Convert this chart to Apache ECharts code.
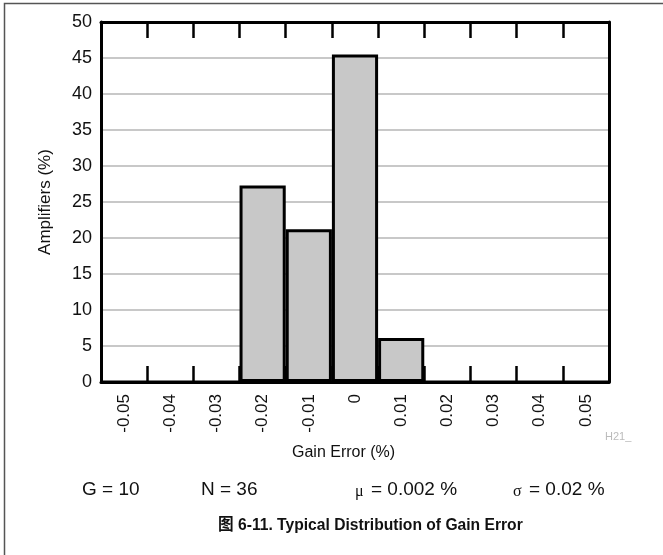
<!DOCTYPE html>
<html>
<head>
<meta charset="utf-8">
<script src="https://cdn.jsdelivr.net/npm/echarts@6/dist/echarts.min.js"></script>
<style>
  html, body { margin: 0; padding: 0; background: #fff; }
  #chart { width: 663px; height: 555px; }
</style>
</head>
<body>
<div id="chart"></div>
<script>
// gain error bins (%), share of amplifiers (%)
const bins = ["-0.05", "-0.04", "-0.03", "-0.02", "-0.01", "0", "0.01", "0.02", "0.03", "0.04", "0.05"];
const amplifiers = [0, 0, 0, 27.3, 21.2, 45.5, 6.1, 0, 0, 0, 0];
const yTicks = [0, 50, 5]; // min, max, step

const chart = echarts.init(document.getElementById("chart"));
const font = "Liberation Sans, Arial, sans-serif";
const serif = "Liberation Serif, Times New Roman, serif";

const tickStyle = { show: true, inside: true, length: 16, interval: 0, lineStyle: { color: "#000", width: 2.5 } };
const frameLine = { onZero: false, lineStyle: { color: "#000", width: 3 } };

chart.setOption({
    backgroundColor: "#fff",
    animation: false,
    textStyle: { fontFamily: font },

    grid: { left: 101, right: 54, top: 22, bottom: 173 },

    xAxis: [
        {
            type: "category",
            data: bins,
            position: "bottom",
            axisLine: frameLine,
            axisTick: tickStyle,
            axisLabel: { rotate: 90, fontSize: 17, color: "#111", margin: 12, interval: 0, fontFamily: font },
            splitLine: { show: false }
        },
        {
            type: "category",
            data: bins,
            position: "top",
            axisLine: frameLine,
            axisTick: tickStyle,
            axisLabel: { show: false }
        }
    ],

    yAxis: [
        {
            type: "value",
            min: yTicks[0],
            max: yTicks[1],
            interval: yTicks[2],
            name: "Amplifiers (%)",
            nameLocation: "middle",
            nameGap: 47,
            nameTextStyle: { fontSize: 17, color: "#111", fontFamily: font },
            axisLine: { show: true, onZero: false, lineStyle: { color: "#000", width: 3 } },
            axisTick: { show: false },
            axisLabel: { fontSize: 18, color: "#111", margin: 9, fontFamily: font },
            splitLine: { lineStyle: { color: "#c8c8c8", width: 2 } }
        },
        {
            type: "value",
            min: yTicks[0],
            max: yTicks[1],
            interval: yTicks[2],
            position: "right",
            axisLine: { show: true, onZero: false, lineStyle: { color: "#000", width: 3 } },
            axisTick: { show: false },
            axisLabel: { show: false },
            splitLine: { show: false }
        }
    ],

    series: [
        {
            type: "bar",
            data: amplifiers,
            barCategoryGap: 0,
            itemStyle: { color: "#c8c8c8", borderColor: "#000", borderWidth: 3 },
            z: 3
        }
    ],

    graphic: [
        // frame (left/top edges visible)
        { type: "polyline", shape: { points: [[4.5, 560], [4.5, 3.5], [670, 3.5]] }, style: { stroke: "#555", lineWidth: 1.5, fill: null } },
        { type: "text", left: 605, top: 431, style: { text: "H21_", fontSize: 11, fill: "#bbb", fontFamily: font } },
        { type: "text", left: 292, top: 445, style: { text: "Gain Error (%)", fontSize: 16, fill: "#111", fontFamily: font } },
        { type: "text", left: 82, top: 480, style: { text: "G = 10", fontSize: 19, fill: "#111", fontFamily: font } },
        { type: "text", left: 201, top: 480, style: { text: "N = 36", fontSize: 19, fill: "#111", fontFamily: font } },
        { type: "text", left: 355, top: 484, style: { text: "μ", fontSize: 16, fill: "#111", fontFamily: serif } },
        { type: "text", left: 371, top: 480, style: { text: "= 0.002 %", fontSize: 19, fill: "#111", fontFamily: font } },
        { type: "text", left: 513, top: 484, style: { text: "σ", fontSize: 16, fill: "#111", fontFamily: serif } },
        { type: "text", left: 529, top: 480, style: { text: "= 0.02 %", fontSize: 19, fill: "#111", fontFamily: font } },
        {
            type: "text", x: 218, y: 517, scaleX: 0.92, originX: 0,
            style: { text: "图 6-11. Typical Distribution of Gain Error", fontSize: 17, fontWeight: "bold", fill: "#111", fontFamily: "Liberation Sans, Noto Sans CJK SC, sans-serif" }
        }
    ]
});
</script>
</body>
</html>
